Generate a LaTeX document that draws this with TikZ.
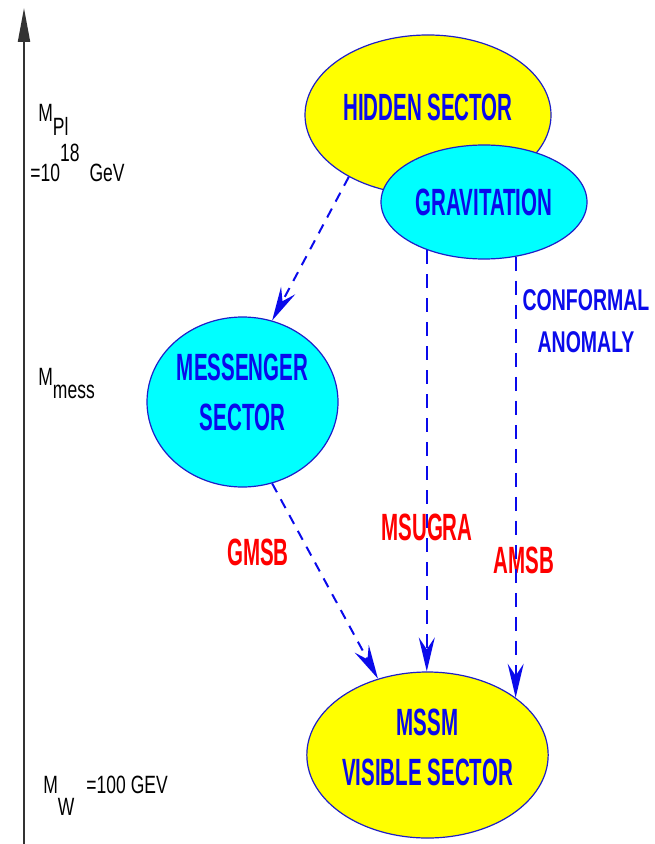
\documentclass[tikz,border=0pt]{standalone}
\usepackage{fontspec}
\setmainfont{Liberation Sans}
\newfontfamily\sectorfont{Liberation Sans}[FakeStretch=0.54]
\newfontfamily\annofont{Liberation Sans}[FakeStretch=0.65]
\newfontfamily\axisfont{Liberation Sans}[FakeStretch=0.7]
\usetikzlibrary{arrows.meta,shapes.geometric}
\definecolor{hidyellow}{RGB}{255,255,0}
\definecolor{sectcyan}{RGB}{0,255,255}
\definecolor{labblue}{RGB}{10,10,235}
\definecolor{edgeblue}{RGB}{30,30,200}
\definecolor{labred}{RGB}{255,0,0}
\tikzset{
  >={Stealth[length=17pt,width=8pt,inset=6pt]},
  sector/.style={
    draw=edgeblue, ellipse, line width=0.6pt, inner sep=0pt, align=center,
    text=labblue, font=\sectorfont\bfseries\fontsize{19}{25}\selectfont
  },
  scheme/.style={
    text=labred, inner sep=0pt, font=\sectorfont\bfseries\fontsize{19}{25}\selectfont
  },
  anno/.style={
    text=labblue, inner sep=0pt, align=center,
    font=\annofont\bfseries\fontsize{15}{21}\selectfont
  },
  scale label/.style={
    anchor=base west, inner sep=0pt, font=\axisfont\fontsize{12.5}{14}\selectfont
  },
  flow/.style={draw=labblue, ->, dash pattern=on 5pt off 4pt, line width=1pt},
  drop/.style={draw=labblue, ->, dash pattern=on 7pt off 5pt, line width=1pt},
}

\begin{document}
\begin{tikzpicture}[x=0.5pt, y=-0.5pt]
  \useasboundingbox (0,0) rectangle (654,844);
  \coordinate (axbot) at (24,844);
  \coordinate (axtop) at (24,8);
  \draw[line width=1pt, black!80, -{Triangle[length=17pt,width=6pt]}] (axbot) -- (axtop);

  \node[scale label] (mpl) at (38,122) {M\raisebox{-7pt}{Pl}};
  \node[scale label] (gev) at (30,182) {=10\raisebox{10pt}{18}\hspace{5pt}GeV};
  \node[scale label] (mmess) at (38,385) {M\raisebox{-6.5pt}{mess}};
  \node[scale label] (mw) at (43,793) {M\raisebox{-11pt}{W}\hspace{6pt}=100 GEV};

  \node[sector, fill=hidyellow, minimum width=123pt, minimum height=80pt, text depth=8pt] (hid) at (428,115) {HIDDEN SECTOR};
  \node[sector, fill=sectcyan, minimum width=103pt, minimum height=57pt] (grav) at (484,202) {GRAVITATION};
  \node[sector, fill=sectcyan, minimum width=95.5pt, minimum height=85pt, text depth=10pt] (mess) at (242.5,402) {MESSENGER\\SECTOR};
  \node[sector, fill=hidyellow, minimum width=120.5pt, minimum height=83pt, text depth=8pt] (mssm) at (427.5,755) {MSSM\\VISIBLE SECTOR};

  \node[anno] (conf) at (586,321) {CONFORMAL\\ANOMALY};
  \node[scheme] (gmsb) at (258,552) {GMSB};
  \node[scheme] (msugra) at (427,527) {MSUGRA};
  \node[scheme] (amsb) at (524,560) {AMSB};

  \draw[flow] (hid.218) -- (mess.70);
  \draw[flow] (mess.290) -- (mssm.123);
  \draw[drop] (grav.220.6) -- (grav.220.6 |- mssm.north);
  \draw[drop] (grav.300) -- (grav.300 |- mssm.33);
\end{tikzpicture}
\end{document}
